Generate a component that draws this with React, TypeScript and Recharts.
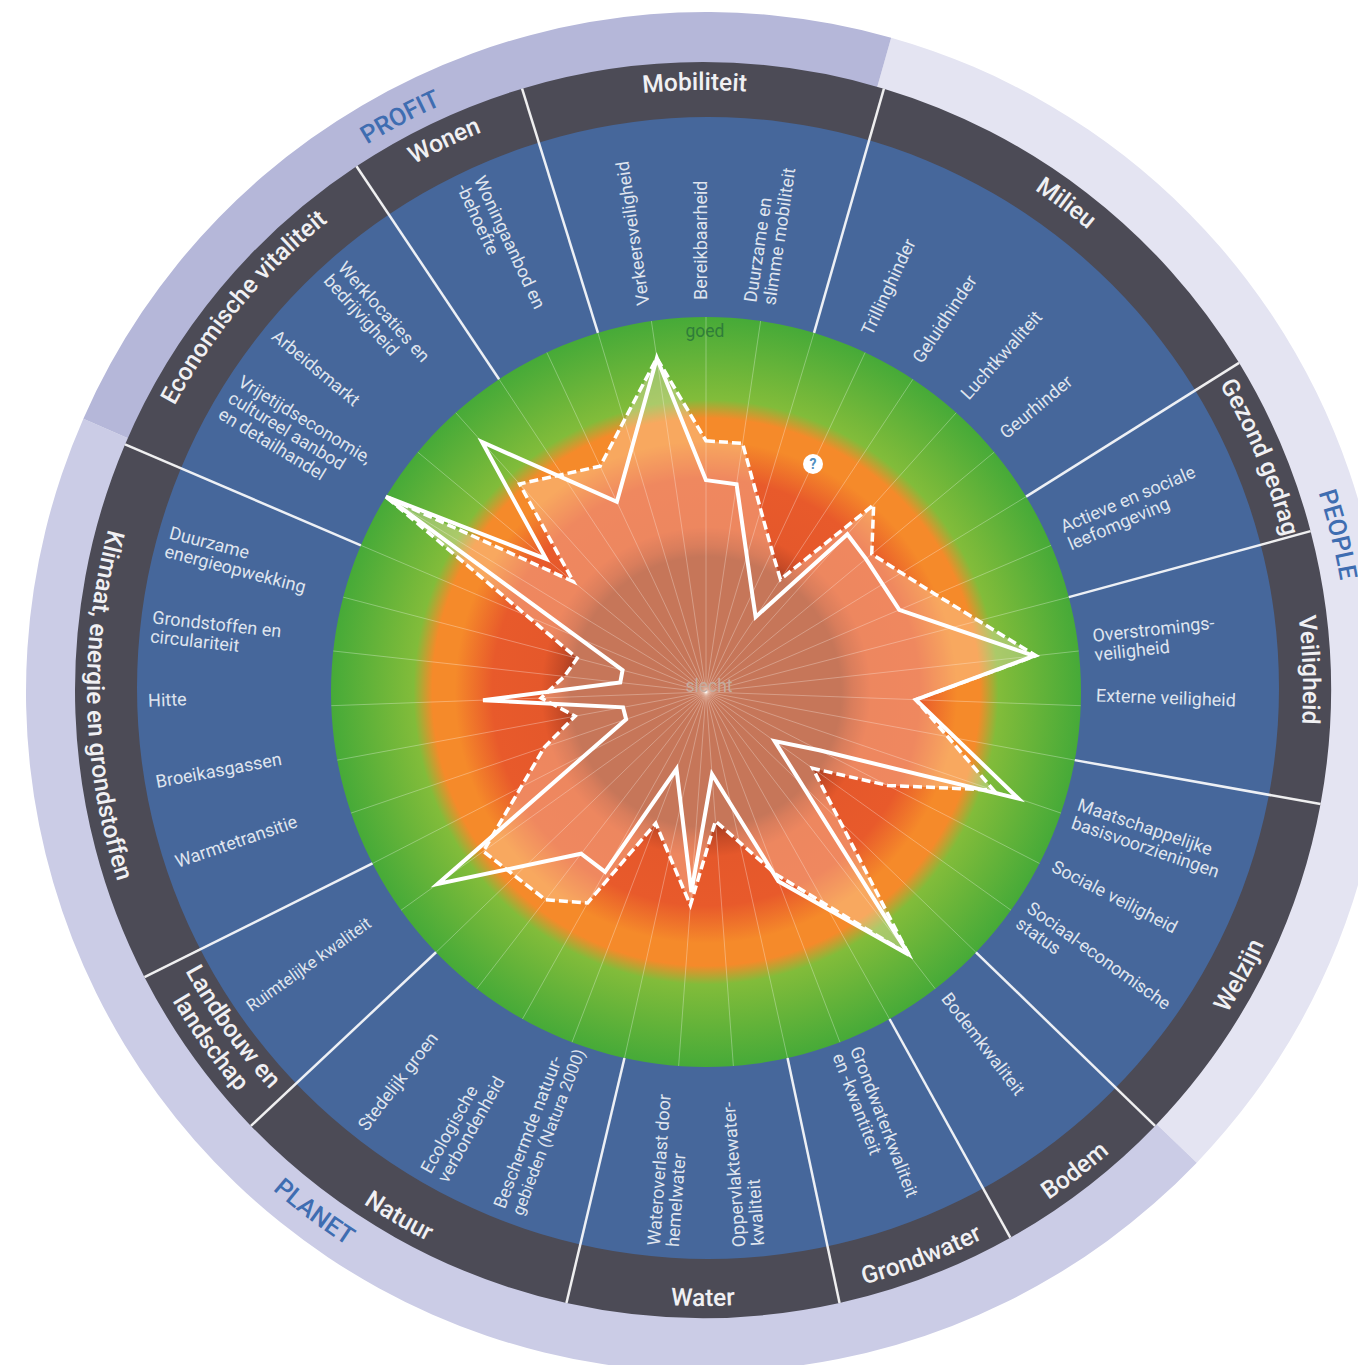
import { Pie, PieChart, PolarAngleAxis, PolarGrid, PolarRadiusAxis, Polygon, Radar, RadarChart } from "recharts";

const WIDTH = 1358;
const HEIGHT = 1365;
const CX = 706;
const CY = 692;
// the printed rings are not perfectly concentric
const BLUE_CX = 708;
const BLUE_CY = 688;
const DARK_CX = 703;
const DARK_CY = 690;
const FONT = "Roboto, sans-serif";

// one entry per spoke, clockwise from the top; null = divider between themes
const indicators = [
  "Bereikbaarheid", "Duurzame en\nslimme mobiliteit", null,
  "Trillinghinder", "Geluidhinder", "Luchtkwaliteit", "Geurhinder", null,
  "Actieve en sociale\nleefomgeving", null,
  "Overstromings-\nveiligheid", "Externe veiligheid", null,
  "Maatschappelijke\nbasisvoorzieningen", "Sociale veiligheid", "Sociaal-economische\nstatus", null,
  "Bodemkwaliteit", null,
  "Grondwaterkwaliteit\nen -kwantiteit", null,
  "Oppervlaktewater-\nkwaliteit", "Wateroverlast door\nhemelwater", null,
  "Beschermde natuur-\ngebieden (Natura 2000)", "Ecologische\nverbondenheid", "Stedelijk groen", null,
  "Ruimtelijke kwaliteit", null,
  "Warmtetransitie", "Broeikasgassen", "Hitte", "Grondstoffen en\ncirculariteit", "Duurzame\nenergieopwekking", null,
  "Vrijetijdseconomie,\ncultureel aanbod\nen detailhandel", "Arbeidsmarkt", "Werklocaties en\nbedrijvigheid", null,
  "Woningaanbod en\n-behoefte", null,
  "Verkeersveiligheid",
];

const solidValues = [
  56.5, 56, null, 29, 24, 56.5, 55.5, null, 56, null, 88, 56, null, 88, 34, 22.5, null, 88.5, null, 54, null,
  22, 53.5, null, 22, 55, 54.5, null, 88, null, 22.5, 22.5, 59.5, 23, 23, null, 100, 55.5, 89.5, null, 56, null, 90,
];

const dashedValues = [
  67, 67, null, 41.5, 36, 67, 57.5, null, 66.5, null, 88.5, 56, null, 81, 54.5, 35, null, 88.5, null, 52, null,
  34.5, 57, null, 37.5, 64.5, 70, null, 73, null, 45.5, 35.5, 44, 38, 35.5, null, 100, 46, 74.5, null, 66.5, null, 90,
];

// small corrections in degrees, the printed labels do not sit exactly on their spokes
const labelShifts: Record<number, number> = {
  0: -1, 1: -0.7, 3: -1, 4: -0.9, 5: -0.5, 6: -0.9, 11: -1, 22: 0.4, 26: 0.5, 28: 0.8,
  30: 0.7, 31: 0.8, 32: 0.8, 34: 0.5, 37: -0.5, 42: -1.2,
};

// themes, clockwise from the Wonen/Mobiliteit divider
const themes = [
  "Mobiliteit", "Milieu", "Gezond gedrag", "Veiligheid", "Welzijn", "Bodem", "Grondwater", "Water", "Natuur",
  "Landbouw en\nlandschap", "Klimaat, energie en grondstoffen", "Economische vitaliteit", "Wonen",
];
const themeSpokes = [4, 5, 2, 3, 4, 2, 2, 3, 4, 2, 6, 4, 2];
const themeLabelAngles = [359.2, 36.7, 67.3, 88.1, 118, 142.3, 158.9, 180, 210, 234.4, 268.5, 309.8, 334.8];

const pillars = ["PEOPLE", "PLANET", "PROFIT"];
const pillarSpans = [118, 159.9, 82.1];
const pillarColors = ["#e4e4f2", "#cbcce6", "#b5b7d9"];
const pillarLabelAngles = [76, 217, 332];

const chartData = indicators.map((_, i) => ({ spoke: i, solid: solidValues[i], dashed: dashedValues[i] }));
const themeData = themes.map((name, i) => ({ name, value: themeSpokes[i], fill: "#4c4b56" }));
const pillarData = pillars.map((name, i) => ({ name, value: pillarSpans[i], fill: pillarColors[i] }));

const STEP = 360 / indicators.length;
const themeStart = 90 + STEP * 2;
const pillarStart = 90 - 15.8;

// a is clockwise from north
function polar(r: number, a: number, cx = CX, cy = CY) {
  const rad = (a * Math.PI) / 180;
  return { x: cx + r * Math.sin(rad), y: cy - r * Math.cos(rad) };
}

function ArcText({ id, text, r, angle, ccw, size, fill, weight, cx, cy }: any) {
  const from = polar(r, ccw ? angle + 85 : angle - 85, cx, cy);
  const to = polar(r, ccw ? angle - 85 : angle + 85, cx, cy);
  return (
    <g>
      <path id={id} d={`M${from.x} ${from.y}A${r} ${r} 0 0 ${ccw ? 0 : 1} ${to.x} ${to.y}`} fill="none" stroke="none" />
      <text fontFamily={FONT} fontSize={size} fontWeight={weight} fill={fill} textAnchor="middle">
        <textPath href={`#${id}`} startOffset="50%">{text}</textPath>
      </text>
    </g>
  );
}

function renderThemeLabel(props: any) {
  const angle = themeLabelAngles[props.index];
  const ccw = angle > 100 && angle < 280;
  const lines = props.name.split("\n");
  const mid = lines.length > 1 ? 594 : 608;
  return (
    <g key={props.name}>
      {lines.map((line: string, i: number) => {
        const offset = (i - (lines.length - 1) / 2) * 26;
        const r = ccw ? mid + 8 + offset : mid - 8 - offset;
        return (
          <ArcText key={line} id={`theme-${props.index}-${i}`} text={line} r={r} angle={angle} ccw={ccw} size={24.5} weight={500} fill="#f0f0f3" cx={DARK_CX} cy={DARK_CY} />
        );
      })}
    </g>
  );
}

function renderPillarLabel(props: any) {
  const angle = pillarLabelAngles[props.index];
  const ccw = angle > 100 && angle < 280;
  return (
    <ArcText key={props.name} id={`pillar-${props.index}`} text={props.name} r={ccw ? 660 : 644} angle={angle} ccw={ccw} size={25} weight={500} fill="#3f6db1" cx={CX} cy={CY} />
  );
}

function renderSpokeTick(props: any) {
  const i = props.index;
  const angle = i * STEP;
  const label = indicators[i];
  if (label === null) {
    const a = polar(375, angle);
    const b = polar(628, angle, DARK_CX, DARK_CY);
    return <line x1={a.x} y1={a.y} x2={b.x} y2={b.y} stroke="#fff" strokeWidth={2.5} strokeOpacity={0.9} />;
  }
  const fromOuter = angle > 170 && angle < 340;
  const p = polar(fromOuter ? 560 : 388, angle + (labelShifts[i] ?? 0), BLUE_CX, BLUE_CY);
  const rotate = fromOuter ? angle + 90 : angle - 90;
  const lines = label.split("\n");
  const lineHeight = 19;
  return (
    <text
      transform={`translate(${p.x} ${p.y}) rotate(${rotate})`}
      fontFamily={FONT}
      fontSize={18}
      fill="#dfe4ee"
      textAnchor="start"
    >
      {lines.map((line: string, j: number) => (
        <tspan key={j} x={0} y={(j - (lines.length - 1) / 2) * lineHeight + 6} fontSize={line.length > 20 ? 16.8 : 18}>{line}</tspan>
      ))}
    </text>
  );
}

// spokes without a score are skipped, so the outline runs straight across them
function renderScoreShape(props: any) {
  const points = props.points.filter((p: any) => p.payload[props.dataKey] !== null);
  return (
    <Polygon
      points={points}
      stroke={props.stroke}
      strokeWidth={props.strokeWidth}
      strokeDasharray={props.strokeDasharray}
      strokeLinejoin="miter"
      fill={props.fill}
      fillOpacity={props.fillOpacity}
    />
  );
}

export default function App() {
  const layer = { position: "absolute", left: 0, top: 0 } as const;
  return (
    <div style={{ position: "absolute", left: 0, top: 0, width: WIDTH, height: HEIGHT, overflow: "hidden", background: "#fff" }}>
      <div style={layer}>
        <PieChart width={WIDTH} height={HEIGHT} margin={{ top: 0, right: 0, bottom: 0, left: 0 }}>
          <defs>
            <radialGradient id="scoreGradient" cx="50%" cy="50%" r="50%">
              <stop offset="0%" stopColor="#aa3f22" />
              <stop offset="36%" stopColor="#aa3f22" />
              <stop offset="39%" stopColor="#c64a26" />
              <stop offset="44%" stopColor="#e5582b" />
              <stop offset="57%" stopColor="#e85a2b" />
              <stop offset="67%" stopColor="#f58a2a" />
              <stop offset="73%" stopColor="#f58a2a" />
              <stop offset="78%" stopColor="#82bc3a" />
              <stop offset="100%" stopColor="#46aa38" />
            </radialGradient>
          </defs>
          <Pie data={pillarData} dataKey="value" cx={CX} cy={CY} innerRadius={620} outerRadius={680} startAngle={pillarStart} endAngle={pillarStart - 360} stroke="none" label={renderPillarLabel} labelLine={false} isAnimationActive={false} />
          <Pie data={themeData} dataKey="value" cx={DARK_CX} cy={DARK_CY} innerRadius={560} outerRadius={628} startAngle={themeStart} endAngle={themeStart - 360} stroke="none" label={renderThemeLabel} labelLine={false} isAnimationActive={false} />
          <Pie data={[{ value: 1 }]} dataKey="value" cx={BLUE_CX} cy={BLUE_CY} innerRadius={365} outerRadius={571} fill="#46679b" stroke="none" label={false} labelLine={false} isAnimationActive={false} />
          <Pie data={[{ value: 1 }]} dataKey="value" cx={CX} cy={CY} innerRadius={0} outerRadius={375} fill="url(#scoreGradient)" stroke="none" label={false} labelLine={false} isAnimationActive={false} />
        </PieChart>
      </div>
      <div style={layer}>
        <RadarChart width={WIDTH} height={HEIGHT} cx={CX} cy={CY} outerRadius={375} data={chartData} margin={{ top: 0, right: 0, bottom: 0, left: 0 }}>
          <PolarGrid gridType="circle" polarRadius={[]} stroke="#fff" strokeOpacity={0.3} strokeWidth={1} />
          <PolarAngleAxis dataKey="spoke" tick={renderSpokeTick} tickLine={false} axisLine={false} />
          <PolarRadiusAxis domain={[0, 100]} tick={false} tickLine={false} axisLine={false} />
          <Radar dataKey="dashed" shape={renderScoreShape} stroke="#fff" strokeWidth={3.5} strokeDasharray="9 4" fill="#ffe6cc" fillOpacity={0.33} dot={false} isAnimationActive={false} />
          <Radar dataKey="solid" shape={renderScoreShape} stroke="#fff" strokeWidth={4} fill="none" dot={false} isAnimationActive={false} />
          <text x={705} y={337} fontFamily={FONT} fontSize={17.5} fill="#2f7d3a" textAnchor="middle">goed</text>
          <text x={709} y={692} fontFamily={FONT} fontSize={17.5} fill="#a8908a" textAnchor="middle">slecht</text>
          <circle cx={813} cy={464} r={10} fill="#fff" />
          <text x={813} y={469} fontFamily={FONT} fontSize={14} fontWeight={700} fill="#4f8fc0" textAnchor="middle">?</text>
        </RadarChart>
      </div>
    </div>
  );
}
